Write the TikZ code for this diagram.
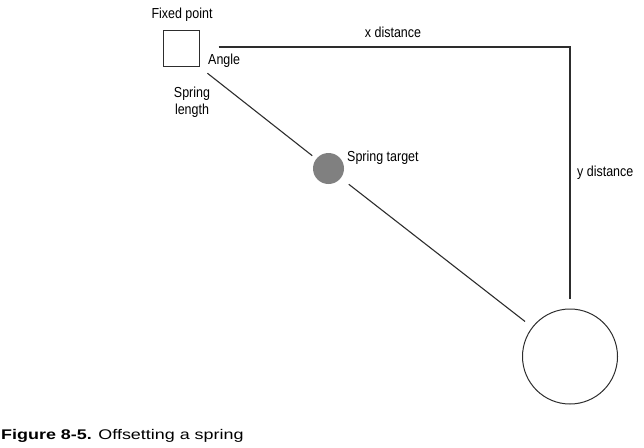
\documentclass[tikz,border=0pt]{standalone}
\usepackage{fontspec}
\setmainfont{Liberation Sans}
\newfontfamily\narrowfont[FakeStretch=0.86]{Liberation Sans}
\newfontfamily\widefont[FakeStretch=1.28]{Liberation Sans}
\usepackage{tikz}
\usetikzlibrary{positioning, calc}
\definecolor{linegray}{RGB}{45, 45, 45}
\definecolor{targetgray}{RGB}{128, 128, 128}

\begin{document}
\begin{tikzpicture}[x=1pt, y=-1pt,
  lbl/.style={font=\narrowfont\fontsize{14.5}{16}\selectfont, text=black, inner sep=0pt},
  springline/.style={draw=linegray, line width=1.1pt}]
  \useasboundingbox (0, 0) rectangle (644, 447);

  % Fixed point and ball
  \node[draw=linegray, line width=1pt, minimum size=36pt, inner sep=0pt] (fixed) at (181, 48.5) {};
  \node[circle, fill=targetgray, minimum size=31pt, inner sep=0pt] (target) at (328.5, 168.5) {};
  \node[circle, draw=linegray, line width=1pt, minimum size=95pt, inner sep=0pt] (ball) at (570, 356.5) {};

  % Spring and distances
  \draw[springline, shorten <=10pt, shorten >=5pt] (fixed.south east) -- (target);
  \draw[springline, shorten <=10pt, shorten >=9pt] (target) -- (ball);
  \coordinate (xstart) at ($(fixed.east)+(19, -1.5)$);
  \coordinate (yend) at ($(ball.north)+(0, -10)$);
  \draw[springline] (xstart) -| (yend);

  % Labels
  \node[lbl] (fixedlbl) at (182, 15) {Fixed point};
  \node[lbl, anchor=west] (anglelbl) at (208, 61) {Angle};
  \node[lbl, align=center] (lengthlbl) at (192, 102) {Spring\\[1pt]length};
  \node[lbl] (xlbl) at (393, 32) {x distance};
  \node[lbl, anchor=west] (targetlbl) at (347, 158) {Spring target};
  \node[lbl, anchor=west] (ylbl) at (577, 173) {y distance};

  % Caption
  \node[anchor=base west, inner sep=0pt, font=\widefont\fontsize{14}{16}\selectfont] (caption) at (1, 439) {\textbf{Figure 8-5.} Offsetting a spring};
\end{tikzpicture}
\end{document}
